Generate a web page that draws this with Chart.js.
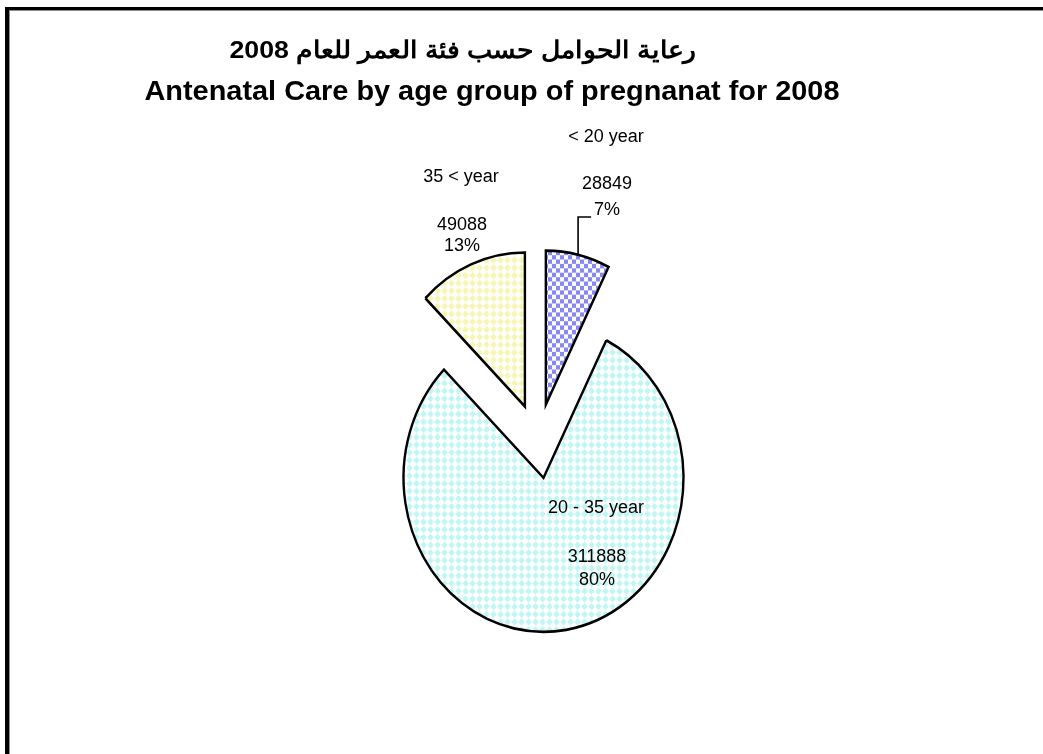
<!DOCTYPE html>
<html lang="es">
<head>
<meta charset="utf-8">
<title>Antenatal Care 2008</title>
<script src="https://cdn.jsdelivr.net/npm/chart.js@4.4.1/dist/chart.umd.min.js"></script>
<style>
  html, body { margin: 0; padding: 0; background: #fff; overflow: hidden; }
  #marco { position: absolute; left: 5px; top: 7px; width: 1100px; height: 800px;
           border-top: 3px solid #000; border-left: 4px solid #000; }
  #marco div { position: absolute; left: 0; top: 0; right: 0; bottom: 0;
           border-top: 1px solid #8c8c8c; border-left: 1px solid #8c8c8c; }
  #grafico { position: absolute; left: 0; top: 0; }
</style>
</head>
<body>
<div id="marco"><div></div></div>
<canvas id="grafico" width="1043" height="754"></canvas>
<script>
// datos del grafico
const categorias = ['< 20 year', '20 - 35 year', '35 < year'];
const valores = [28849, 311888, 49088];
const porcentajes = ['7%', '80%', '13%'];
const tituloArabe = 'رعاية الحوامل حسب فئة العمر للعام 2008';
const tituloIngles = 'Antenatal Care by age group of pregnanat for 2008';

// posicion de las etiquetas respecto al centro de la torta
const posNombre = [[68, -304], [58, 67], [-77, -264]];
const posValor = [[69, -257], [59, 116], [-76, -216]];
const posPorcentaje = [[69, -231], [59, 139], [-76, -195]];

const explosion = 34;
const estiramiento = 1.1;
const fuente = '"Liberation Sans", Arial, sans-serif';

const canvas = document.getElementById('grafico');
const ctx = canvas.getContext('2d');

function crearPatron(color, tipo) {
    const c = document.createElement('canvas');
    const p = c.getContext('2d');
    if (tipo === 'cuadros') {
        c.width = c.height = 8;
        p.fillStyle = '#ffffff';
        p.fillRect(0, 0, 8, 8);
        p.fillStyle = color;
        p.fillRect(0, 0, 4, 4);
        p.fillRect(4, 4, 4, 4);
    } else {
        c.width = c.height = 7;
        p.fillStyle = '#ffffff';
        p.fillRect(0, 0, 7, 7);
        p.fillStyle = color;
        p.beginPath();
        p.moveTo(3.5, 0.2);
        p.lineTo(6.8, 3.5);
        p.lineTo(3.5, 6.8);
        p.lineTo(0.2, 3.5);
        p.closePath();
        p.fill();
    }
    return ctx.createPattern(c, 'repeat');
}

const rellenos = [
    crearPatron('#8888f4', 'cuadros'),
    crearPatron('#bff5f5', 'rombos'),
    crearPatron('#f7f5b0', 'rombos')
];

function centro(chart) {
    const a = chart.chartArea;
    return [(a.left + a.right) / 2, (a.top + a.bottom) / 2];
}

// texto centrado, ajustado al ancho que ocupa en el original
function textoAncho(c, texto, x, y, ancho) {
    const w = c.measureText(texto).width;
    c.save();
    c.translate(x, y);
    c.scale(ancho / w, 1);
    c.fillText(texto, 0, 0);
    c.restore();
}

// separa las porciones y estira la torta en vertical (como en Excel)
const pluginTorta = {
    id: 'torta',
    beforeDatasetsDraw(chart) {
        const [cx, cy] = centro(chart);
        chart.getDatasetMeta(0).data.forEach(arc => {
            const medio = (arc.startAngle + arc.endAngle) / 2;
            arc.x = cx + Math.cos(medio) * explosion;
            arc.y = cy + Math.sin(medio) * explosion;
        });
        const c = chart.ctx;
        c.save();
        c.translate(cx, cy);
        c.scale(1, estiramiento);
        c.translate(-cx, -cy);
    },
    afterDatasetsDraw(chart) {
        chart.ctx.restore();
    },
    afterDraw(chart) {
        const c = chart.ctx;
        const [cx, cy] = centro(chart);
        c.save();
        c.fillStyle = '#000';
        c.textAlign = 'center';
        c.textBaseline = 'middle';

        c.font = 'bold 24px ' + fuente;
        textoAncho(c, tituloArabe, 463, 51, 467);
        c.font = 'bold 27px ' + fuente;
        textoAncho(c, tituloIngles, 492, 93, 695);

        c.font = '18px ' + fuente;
        categorias.forEach((cat, i) => {
            c.fillText(cat, cx + posNombre[i][0], cy + posNombre[i][1]);
            c.fillText(String(valores[i]), cx + posValor[i][0], cy + posValor[i][1]);
            c.fillText(porcentajes[i], cx + posPorcentaje[i][0], cy + posPorcentaje[i][1]);
        });

        // linea guia de la porcion pequena
        const arc = chart.getDatasetMeta(0).data[0];
        const medio = (arc.startAngle + arc.endAngle) / 2;
        const bx = arc.x + Math.cos(medio) * arc.outerRadius;
        const by = cy + (arc.y - cy + Math.sin(medio) * arc.outerRadius) * estiramiento;
        const ly = cy + posPorcentaje[0][1] + 7;
        c.strokeStyle = '#000';
        c.lineWidth = 1.6;
        c.beginPath();
        c.moveTo(bx, by);
        c.lineTo(bx, ly);
        c.lineTo(bx + 13, ly);
        c.stroke();
        c.restore();
    }
};

new Chart(ctx, {
    type: 'pie',
    data: {
        labels: categorias,
        datasets: [{
            data: valores,
            backgroundColor: rellenos,
            borderColor: '#000000',
            borderWidth: 2.4,
            borderJoinStyle: 'miter'
        }]
    },
    options: {
        responsive: false,
        animation: false,
        events: [],
        radius: 140,
        layout: { padding: { left: 33, right: 0, top: 128, bottom: 0 } },
        plugins: {
            legend: { display: false },
            title: { display: false },
            tooltip: { enabled: false }
        }
    },
    plugins: [pluginTorta]
});
</script>
</body>
</html>
